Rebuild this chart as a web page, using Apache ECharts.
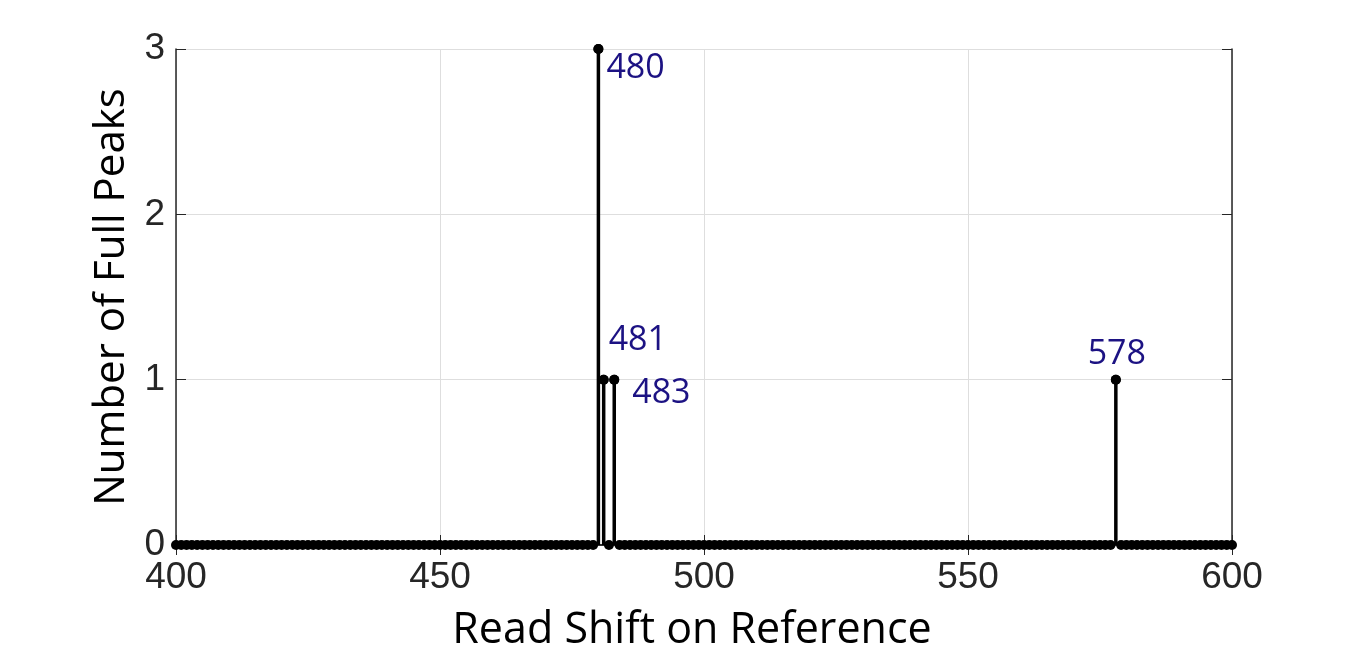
<!DOCTYPE html>
<html>
<head>
<meta charset="utf-8">
<script src="https://cdn.jsdelivr.net/npm/echarts@6/dist/echarts.min.js"></script>
<style>
  html, body { margin: 0; padding: 0; background: #ffffff; }
  #chart { width: 1360px; height: 661px; }
</style>
</head>
<body>
<div id="chart"></div>
<script>
// read shift range (one stem per integer shift) and the non-zero peaks
const shiftStart = 400
const shiftEnd = 600
const peakShifts = [480, 481, 483, 578]
const peakCounts = [3, 1, 1, 1]
const peakLabels = ['480', '481', '483', '578']
const xTicks = [400, 450, 500, 550, 600]
const yTicks = [0, 1, 2, 3]

// every shift has a count; it is 0 except at the peaks
const shifts = []
for (let s = shiftStart; s <= shiftEnd; s++) shifts.push(s)
const counts = shifts.map((s) => {
  const i = peakShifts.indexOf(s)
  return i >= 0 ? peakCounts[i] : 0
})

const labelPlace = [
  { position: 'right', offset: [-2, 19] },
  { position: 'right', offset: [-5, -39] },
  { position: 'right', offset: [8, 14] },
  { position: 'top', offset: [1, 2] },
]

const chart = echarts.init(document.getElementById('chart'))

const tickFont = {
  color: '#262626',
  fontSize: 37,
  fontFamily: '"Liberation Sans", Arial, sans-serif',
}
const titleFont = { color: '#000', fontSize: 42, fontFamily: '"Open Sans", sans-serif' }
const frameLine = { show: true, lineStyle: { color: '#262626', width: 1.5 } }
const inTicks = { show: true, inside: true, length: 10, lineStyle: { color: '#262626' } }
const gridLine = { show: true, lineStyle: { color: '#dedede', width: 1 } }

chart.setOption({
  animation: false,
  grid: { left: 176, right: 128, top: 49, bottom: 116 },
  xAxis: [
    {
      type: 'value',
      min: xTicks[0],
      max: xTicks[xTicks.length - 1],
      interval: 50,
      name: 'Read Shift on Reference',
      nameLocation: 'middle',
      nameGap: 64,
      nameTextStyle: { ...titleFont, fontSize: 43, padding: [0, 24, 0, 0] },
      axisLine: frameLine,
      axisTick: inTicks,
      axisLabel: { ...tickFont, margin: 14 },
      splitLine: gridLine,
    },
    {
      type: 'value',
      position: 'top',
      min: xTicks[0],
      max: xTicks[xTicks.length - 1],
      interval: 50,
      axisLine: frameLine,
      axisTick: inTicks,
      axisLabel: { show: false },
      splitLine: { show: false },
    },
  ],
  yAxis: [
    {
      type: 'value',
      min: yTicks[0],
      max: yTicks[yTicks.length - 1],
      interval: 1,
      name: 'Number of Full Peaks',
      nameLocation: 'middle',
      nameGap: 40,
      nameTextStyle: titleFont,
      axisLine: frameLine,
      axisTick: inTicks,
      axisLabel: { ...tickFont, margin: 11 },
      splitLine: gridLine,
    },
    {
      type: 'value',
      position: 'right',
      min: yTicks[0],
      max: yTicks[yTicks.length - 1],
      interval: 1,
      axisLine: frameLine,
      axisTick: inTicks,
      axisLabel: { show: false },
      splitLine: { show: false },
    },
  ],
  series: [
    {
      type: 'custom',
      data: shifts.map((s, i) => [s, counts[i]]),
      renderItem: (params, api) => {
        const top = api.coord([api.value(0), api.value(1)])
        const base = api.coord([api.value(0), 0])
        return {
          type: 'line',
          shape: { x1: base[0], y1: base[1], x2: top[0], y2: top[1] },
          style: { stroke: '#000', lineWidth: 3.5 },
        }
      },
      z: 3,
    },
    {
      type: 'scatter',
      data: shifts.map((s, i) => [s, counts[i]]),
      symbol: 'circle',
      symbolSize: 10,
      itemStyle: { color: '#000', opacity: 1 },
      z: 4,
    },
    {
      type: 'scatter',
      data: peakShifts.map((s, i) => ({
        value: [s, peakCounts[i]],
        label: {
          show: true,
          formatter: peakLabels[i],
          position: labelPlace[i].position,
          offset: labelPlace[i].offset,
        },
      })),
      symbol: 'circle',
      symbolSize: 10,
      itemStyle: { color: '#000', opacity: 1 },
      label: {
        color: '#1c1283',
        fontSize: 34,
        fontFamily: '"Open Sans", sans-serif',
      },
      z: 5,
    },
  ],
})
</script>
</body>
</html>
